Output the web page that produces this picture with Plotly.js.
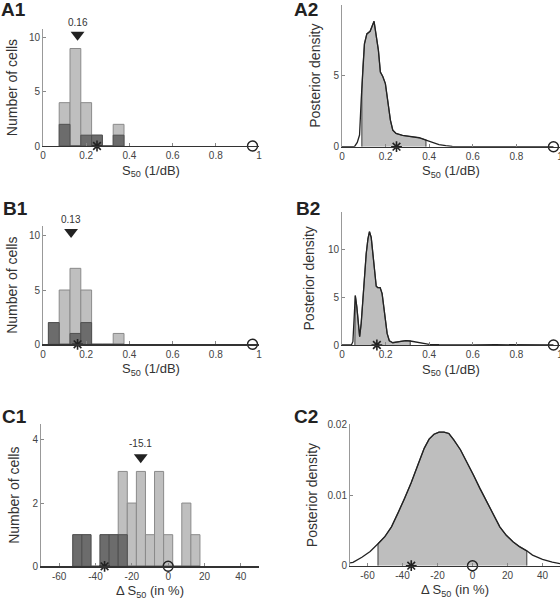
<!DOCTYPE html>
<html>
<head>
<meta charset="utf-8">
<script src="https://cdn.plot.ly/plotly-3.0.1.min.js"></script>
<style>
html,body{margin:0;padding:0;overflow:hidden;background:#fff;}
#chart{width:560px;height:601px;}
</style>
</head>
<body>
<div id="chart"></div>
<script>
// ---------------- DATA ----------------
// A1: histogram of S50 (all cells, subset of cells)
const a1Centers = [0.10, 0.15, 0.20, 0.25, 0.30, 0.35];
const a1All     = [4, 9, 4, 1, 0, 2];
const a1Sub     = [2, 0, 1, 1, 0, 1];
const a1Median  = 0.16;
const a1Star    = 0.25;
const a1Circle  = 0.97;

// A2: posterior density of S50
const a2X = [0, 0.04, 0.058, 0.07, 0.0805, 0.088, 0.091, 0.0957, 0.103, 0.114, 0.129, 0.147, 0.167, 0.176, 0.187, 0.199, 0.21, 0.222, 0.233, 0.248, 0.278, 0.324, 0.354, 0.385, 0.415, 0.445, 0.476, 0.506, 0.55, 0.7, 0.97];
const a2Y = [0, 0, 0.02, 0.3, 0.82, 3.27, 3.97, 5.6, 7.24, 7.94, 8.13, 8.83, 6.78, 5.26, 4.95, 4.44, 3.27, 1.87, 1.17, 0.93, 0.79, 0.70, 0.63, 0.47, 0.28, 0.14, 0.07, 0.02, 0.005, 0, 0];
const a2CI = [0.091, 0.385];
const a2Star = 0.25;
const a2Circle = 0.97;

// B1: histogram
const b1Centers = [0.05, 0.10, 0.15, 0.20, 0.25, 0.30, 0.35];
const b1All     = [2, 5, 7, 5, 0, 0, 1];
const b1Sub     = [2, 0, 1, 2, 0, 0, 0];
const b1Median  = 0.13;
const b1Star    = 0.16;
const b1Circle  = 0.97;

// B2: posterior density
const b2X = [0, 0.043, 0.05, 0.056, 0.059, 0.061, 0.068, 0.076, 0.081, 0.088, 0.096, 0.103, 0.111, 0.119, 0.126, 0.134, 0.141, 0.149, 0.157, 0.164, 0.175, 0.184, 0.191, 0.199, 0.207, 0.217, 0.233, 0.263, 0.293, 0.313, 0.339, 0.369, 0.40, 0.445, 0.506, 0.60, 0.704, 0.795, 0.93, 0.97];
const b2Y = [0, 0, 0.35, 4.0, 5.0, 5.2, 4.0, 1.57, 0.87, 2.26, 5.05, 7.67, 9.58, 11.15, 11.9, 11.3, 9.58, 7.3, 6.17, 6.03, 6.03, 5.4, 4.0, 2.26, 1.22, 0.45, 0.24, 0.35, 0.45, 0.42, 0.31, 0.17, 0.07, 0.03, 0.01, 0.01, 0.03, 0.02, 0, 0];
const b2CI = [0.059, 0.313];
const b2Star = 0.16;
const b2Circle = 0.97;

// C1: histogram of delta S50 (in %)
const c1Centers = [-50, -45, -40, -35, -30, -25, -20, -15, -10, -5, 0, 5, 10, 15];
const c1All     = [1, 1, 0, 1, 1, 3, 2, 3, 1, 3, 1, 0, 2, 1];
const c1Sub     = [1, 1, 0, 1, 1, 1, 0, 0, 0, 0, 0, 0, 0, 0];
const c1Median  = -15.1;
const c1Star    = -35;
const c1Circle  = 0;

// C2: posterior density of delta S50
const c2X = [-70, -68.3, -63.2, -58.5, -54, -50.1, -46.3, -42.6, -38.8, -35.1, -31.3, -27.6, -24.8, -22, -19.1, -16.3, -13.5, -10.7, -6.9, -3.2, 0.6, 4.3, 8.1, 11.8, 15.6, 19.3, 23.1, 26.8, 31, 34.3, 40, 45.6, 50];
const c2Y = [0.0004, 0.00047, 0.0012, 0.002, 0.0031, 0.0041, 0.0055, 0.0074, 0.0095, 0.0117, 0.0142, 0.0166, 0.0179, 0.0186, 0.0189, 0.0189, 0.0187, 0.0178, 0.0164, 0.0147, 0.0128, 0.0109, 0.0091, 0.0072, 0.0055, 0.0043, 0.0034, 0.0027, 0.0021, 0.0015, 0.0009, 0.0005, 0.0003];
const c2CI = [-54, 31];
const c2Star = -35;
const c2Circle = 0;

const s50Ticks = [0, 0.2, 0.4, 0.6, 0.8, 1];
const s50TickText = ['0', '0.2', '0.4', '0.6', '0.8', '1'];
const dTicks = [-60, -40, -20, 0, 20, 40];
const dTickText = ['-60', '-40', '-20', '0', '20', '40'];

// ---------------- STYLE ----------------
const W = 560, H = 601;
const FONT = 'Liberation Sans, Arial, Helvetica, sans-serif';
const LIGHT = '#bfbfbf', LIGHT_EDGE = '#8a8a8a';
const DARK = '#6c6c6c', DARK_EDGE = '#505050';
const INK = '#222222';

function dx(a, b) { return [a / W, b / W]; }
function dy(top, bottom) { return [1 - bottom / H, 1 - top / H]; }

const traces = [];
const annotations = [];

function markers(xa, ya, star, circle) {
  traces.push({type: 'scatter', mode: 'markers', x: [star], y: [0], xaxis: xa, yaxis: ya,
    marker: {symbol: 'asterisk-open', size: 9, color: INK, line: {color: INK, width: 1.6}},
    cliponaxis: false, showlegend: false, hoverinfo: 'skip'});
  traces.push({type: 'scatter', mode: 'markers', x: [circle], y: [0], xaxis: xa, yaxis: ya,
    marker: {symbol: 'circle-open', size: 10, color: INK, line: {color: INK, width: 1.4}},
    cliponaxis: false, showlegend: false, hoverinfo: 'skip'});
}

function histPanel(n, centers, all, sub, width, yMax, median, medY, medTextY, medText, star, circle) {
  const xa = 'x' + (n === 1 ? '' : n), ya = 'y' + (n === 1 ? '' : n);
  traces.push({type: 'bar', x: centers, y: all, width: width, xaxis: xa, yaxis: ya,
    marker: {color: LIGHT, line: {color: LIGHT_EDGE, width: 1}}, showlegend: false, hoverinfo: 'skip'});
  traces.push({type: 'bar', x: centers, y: sub, width: width, xaxis: xa, yaxis: ya,
    marker: {color: DARK, line: {color: DARK_EDGE, width: 1}}, showlegend: false, hoverinfo: 'skip'});
  traces.push({type: 'scatter', mode: 'markers', x: [median], y: [medY], xaxis: xa, yaxis: ya,
    marker: {symbol: 'triangle-down', size: 12, color: INK}, cliponaxis: false, showlegend: false, hoverinfo: 'skip'});
  markers(xa, ya, star, circle);
  annotations.push({xref: xa, yref: ya + ' domain', x: median, y: medTextY / yMax, text: medText, showarrow: false,
    font: {family: FONT, size: 10, color: '#333'}, xanchor: 'center', yanchor: 'middle'});
}

function densPanel(n, xs, ys, ci, star, circle) {
  const xa = 'x' + n, ya = 'y' + n;
  const sx = [ci[0]], sy = [0];
  xs.forEach((v, i) => { if (v >= ci[0] && v <= ci[1]) { sx.push(v); sy.push(ys[i]); } });
  sx.push(ci[1]); sy.push(0);
  traces.push({type: 'scatter', mode: 'lines', x: sx, y: sy, xaxis: xa, yaxis: ya, fill: 'toself',
    fillcolor: '#bebebe', line: {color: '#555', width: 1.2}, showlegend: false, hoverinfo: 'skip'});
  traces.push({type: 'scatter', mode: 'lines', x: xs, y: ys, xaxis: xa, yaxis: ya,
    line: {color: INK, width: 1.3}, showlegend: false, hoverinfo: 'skip'});
  markers(xa, ya, star, circle);
}

histPanel(1, a1Centers, a1All, a1Sub, 0.05, 10.8, a1Median, 10.28, 11.38, a1Median.toFixed(2), a1Star, a1Circle);
densPanel(2, a2X, a2Y, a2CI, a2Star, a2Circle);
histPanel(3, b1Centers, b1All, b1Sub, 0.05, 10.9, b1Median, 10.34, 11.48, b1Median.toFixed(2), b1Star, b1Circle);
densPanel(4, b2X, b2Y, b2CI, b2Star, b2Circle);
histPanel(5, c1Centers, c1All, c1Sub, 5, 4.5, c1Median, 3.45, 3.87, c1Median.toFixed(1), c1Star, c1Circle);
densPanel(6, c2X, c2Y, c2CI, c2Star, c2Circle);

const tickFont = {family: FONT, size: 10, color: '#444'};
const xTitleFont = {family: FONT, size: 13, color: '#333'};
const yTitleFont = {family: FONT, size: 14, color: '#333'};
const S50 = 'S<sub>50</sub> (1/dB)';
const DS50 = '\u0394 S<sub>50</sub> (in %)';

function xax(domain, anchor, range, tv, tt, title, standoff) {
  return {domain: domain, anchor: anchor, range: range, tickvals: tv, ticktext: tt,
    ticks: 'inside', ticklen: 3, tickcolor: '#888', tickwidth: 1, ticklabeloverflow: 'allow',
    showline: true, linecolor: '#333', linewidth: 1.3, showgrid: false, zeroline: false,
    tickfont: tickFont, automargin: false, fixedrange: true,
    title: {text: title, font: xTitleFont, standoff: standoff}};
}
function yax(domain, anchor, range, tv, tt, title, standoff) {
  return {domain: domain, anchor: anchor, range: range, tickvals: tv, ticktext: tt,
    ticks: 'inside', ticklen: 3, tickcolor: '#888', tickwidth: 1,
    showline: true, linecolor: '#999', linewidth: 1, showgrid: false, zeroline: false,
    tickfont: tickFont, automargin: false, fixedrange: true,
    title: {text: title, font: yTitleFont, standoff: standoff}};
}

function panelLabel(text, px, py) {
  annotations.push({xref: 'paper', yref: 'paper', x: px / W, y: 1 - py / H, text: '<b>' + text + '</b>',
    showarrow: false, xanchor: 'left', yanchor: 'middle', font: {family: FONT, size: 19, color: '#222'}});
}
panelLabel('A1', -1, 10);
panelLabel('A2', 292, 10);
panelLabel('B1', 1, 208);
panelLabel('B2', 294, 208);
panelLabel('C1', 0, 416);
panelLabel('C2', 292, 416);

const layout = {
  width: W, height: H, margin: {l: 0, r: 0, t: 0, b: 0},
  paper_bgcolor: '#fff', plot_bgcolor: 'rgba(0,0,0,0)',
  barmode: 'overlay', showlegend: false, font: {family: FONT},
  xaxis:  xax(dx(43, 259), 'y',  [0, 1], s50Ticks, s50TickText, S50, 5),
  yaxis:  yax(dy(29, 146), 'x',  [0, 10.8], [0, 5, 10], ['0', '5', '10'], 'Number of cells', 7),
  xaxis2: xax(dx(342, 560), 'y2', [0, 1], s50Ticks, s50TickText, S50, 5),
  yaxis2: yax(dy(4.7, 146.7), 'x2', [0, 10], [0, 5, 10], ['0', '5', '10'], 'Posterior density', 9),
  xaxis3: xax(dx(43, 259), 'y3', [0, 1], s50Ticks, s50TickText, S50, 5),
  yaxis3: yax(dy(226, 344.3), 'x3', [0, 10.9], [0, 5, 10], ['0', '5', '10'], 'Number of cells', 7),
  xaxis4: xax(dx(342, 560), 'y4', [0, 1], s50Ticks, s50TickText, S50, 5),
  yaxis4: yax(dy(211.7, 345), 'x4', [0, 14], [0, 5, 10], ['0', '5', '10'], 'Posterior density', 9),
  xaxis5: xax(dx(41, 259), 'y5', [-70, 50], dTicks, dTickText, DS50, 5),
  yaxis5: yax(dy(424, 566.3), 'x5', [0, 4.5], [0, 2, 4], ['0', '2', '4'], 'Number of cells', 9),
  xaxis6: xax(dx(350, 560), 'y6', [-70, 50], dTicks, dTickText, DS50, 5),
  yaxis6: yax(dy(424.3, 565.7), 'x6', [0, 0.02], [0, 0.01, 0.02], ['0', '0.01', '0.02'], 'Posterior density', 6),
  annotations: annotations
};

Plotly.newPlot('chart', traces, layout, {staticPlot: true, displayModeBar: false});
</script>
</body>
</html>
